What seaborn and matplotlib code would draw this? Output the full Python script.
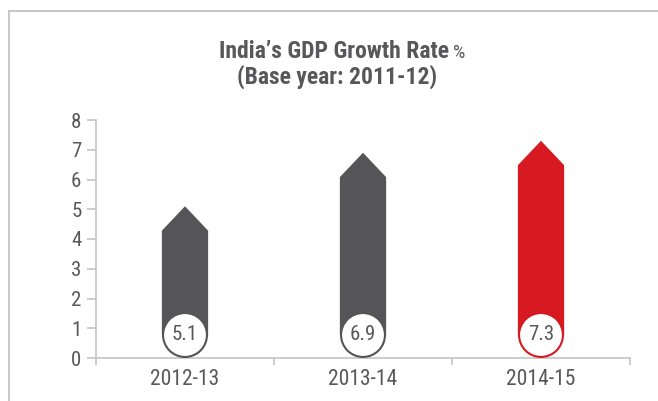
import numpy as np
import pandas as pd
import matplotlib
matplotlib.use("Agg")
import matplotlib.pyplot as plt
import matplotlib.transforms as mtransforms
from matplotlib.patches import Polygon, Rectangle
import seaborn as sns

# data
years = ['2012-13', '2013-14', '2014-15']
growth = [5.1, 6.9, 7.3]
bar_colors = ['#555557', '#555557', '#d71a21']
y_ticks = [0, 1, 2, 3, 4, 5, 6, 7, 8]

sns.set_style('white')
plt.rcParams['font.family'] = ['Roboto Condensed', 'DejaVu Sans']

txt = '#58585a'
axc = '#c4c4c4'

df = pd.DataFrame({'year': years, 'growth': growth})

fig = plt.figure(figsize=(6.58, 4.01), dpi=100)
# light outer frame (cropped at right / bottom)
fig.patches.append(Rectangle((8.5 / 658, -0.1), 1.2, 1.1 - 11 / 401, transform=fig.transFigure,
                             fill=False, edgecolor='#c8c8c8', linewidth=1.5))
ax = fig.add_axes([96 / 658, 43 / 401, 534 / 658, 238 / 401])

sns.barplot(data=df, x='year', y='growth', hue='year', palette=bar_colors,
            width=0.26, legend=False, ax=ax)

ax.set_ylim(0, 8)
ax.set_xlim(-0.5, 2.5)

# circle radius in pixels -> data units
r_px = 23
px_per_unit = ax.transData.transform((0, 1))[1] - ax.transData.transform((0, 0))[1]
r_dat = r_px / px_per_unit

# turn each bar into an upward arrow starting at the circle centre
head = 0.82
for p, c in zip(ax.patches, bar_colors):
    x0, w, h = p.get_x(), p.get_width(), p.get_height()
    p.set_visible(False)
    ax.add_patch(Polygon([(x0, r_dat), (x0, h - head), (x0 + w / 2, h),
                          (x0 + w, h - head), (x0 + w, r_dat)],
                         closed=True, facecolor=c, edgecolor='none', zorder=2))

# value circles sitting on the baseline
off = mtransforms.offset_copy(ax.transData, fig=fig, y=r_px * 0.72, units='points')
xs = np.arange(len(years))
ax.scatter(xs, [0] * len(xs), s=(2 * r_px * 0.72 - 1.5) ** 2, c='white',
           edgecolors=bar_colors, linewidths=1.5, transform=off, zorder=3, clip_on=False)
for xi, v in zip(xs, growth):
    ax.text(xi, 0, f'{v}', transform=off, ha='center', va='center',
            fontsize=15, color=txt, zorder=4)

ax.set_yticks(y_ticks)
ax.set_xlabel('')
ax.set_ylabel('')
ax.set_xticks(xs)
ax.set_xticklabels(years)
ax.set_xticks([-0.5, 0.5, 1.5, 2.5], minor=True)
ax.tick_params(axis='x', which='major', length=0, pad=8, labelsize=15.5, labelcolor=txt)
ax.tick_params(axis='x', which='minor', length=5, width=1.2, color=axc, direction='out', bottom=True)
ax.tick_params(axis='y', length=6.5, width=1.2, color=axc, pad=4, labelsize=15,
               labelcolor=txt, left=True, direction='out')
for s in ['top', 'right']:
    ax.spines[s].set_visible(False)
for s in ['left', 'bottom']:
    ax.spines[s].set_color(axc)
    ax.spines[s].set_linewidth(1.2)

# title: bold line with a lighter % sign
y1 = 1 - 58 / 401
t1 = fig.text(219 / 658, y1, "India\u2019s GDP Growth Rate",
              ha='left', va='baseline', fontsize=17, fontweight='bold', color=txt)
fig.canvas.draw()
bb = t1.get_window_extent().transformed(fig.transFigure.inverted())
fig.text(bb.x1 + 4 / 658, y1, '%', ha='left', va='baseline', fontsize=14, color=txt)
fig.text(337 / 658, 1 - 84 / 401, '(Base year: 2011-12)',
         ha='center', va='baseline', fontsize=17, fontweight='bold', color=txt)

fig.savefig('out.png', dpi=100)
